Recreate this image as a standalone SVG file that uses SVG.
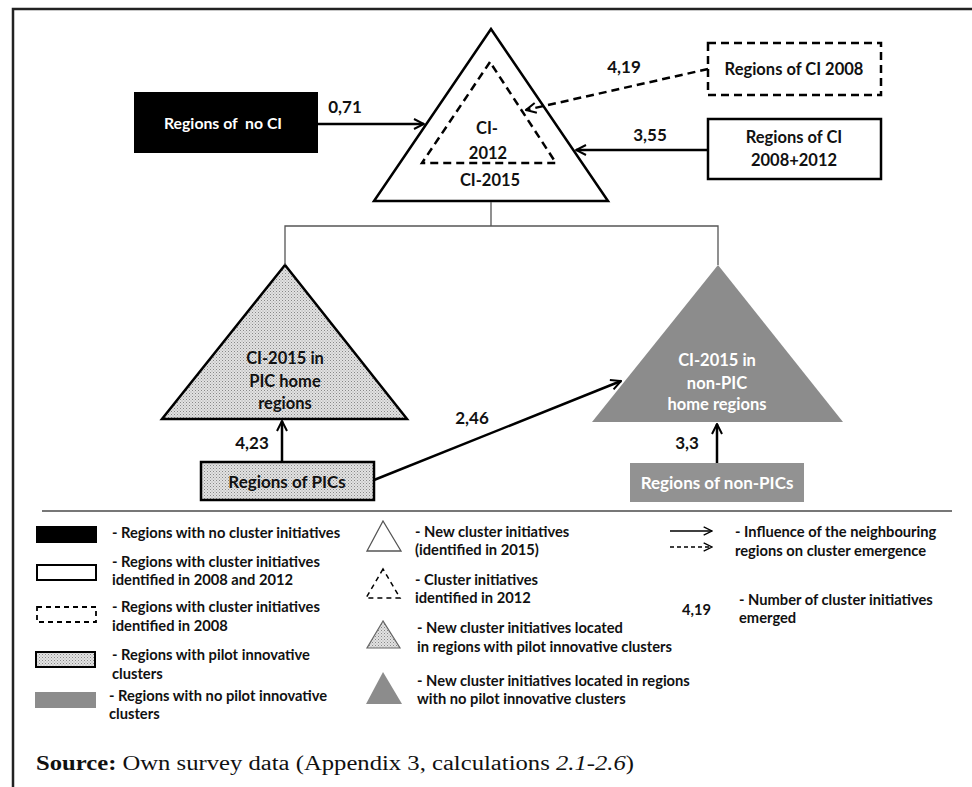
<svg xmlns="http://www.w3.org/2000/svg" width="972" height="787" viewBox="0 0 972 787">
<defs>
<pattern id="dots" width="3" height="3" patternUnits="userSpaceOnUse">
<rect width="3" height="3" fill="#e2e2e2"/>
<rect x="0" y="0" width="1" height="1" fill="#888"/>
<rect x="1.5" y="1.5" width="1" height="1" fill="#a5a5a5"/>
</pattern>
<marker id="arr" viewBox="0 0 12 12" refX="11" refY="6" markerWidth="12" markerHeight="12" markerUnits="userSpaceOnUse" orient="auto">
<path d="M1,1 L11,6 L1,11" fill="none" stroke="#000" stroke-width="2"/>
</marker>
<marker id="arrs" viewBox="0 0 12 12" refX="11" refY="6" markerWidth="10" markerHeight="10" markerUnits="userSpaceOnUse" orient="auto">
<path d="M1,1 L11,6 L1,11" fill="none" stroke="#000" stroke-width="1.6"/>
</marker>
</defs>
<style>
text{font-family:Lato,"Liberation Sans",sans-serif;font-weight:bold;fill:#111}
.n{font-size:16.5px;text-anchor:middle}
.b{font-size:17px;text-anchor:middle}
.w{fill:#fff}
.lab{font-size:17px;text-anchor:middle}
.lg{font-size:14.7px}
.box{stroke:#000;stroke-width:2.5}
.dash{stroke-dasharray:8 5}
.thin{stroke:#555;stroke-width:1.3;fill:none}
.con{stroke:#000;stroke-width:2.5;fill:none}
.src{font-family:"Liberation Serif",serif;font-weight:normal;font-size:20px;fill:#111}
</style>

<g id="frame">
<path d="M13,787 V9 H972" fill="none" stroke="#222" stroke-width="2.5"/>
</g>

<g id="ci2015">
<polygon points="491,29 374,201 608,201" fill="#fff" class="box"/>
<polygon points="490,62 422,163 556,163" fill="none" class="box dash"/>
<text class="n" x="487" y="134">CI-</text>
<text class="n" x="488" y="159">2012</text>
<text class="n" x="490" y="186">CI-2015</text>
</g>

<g id="noci">
<rect x="134" y="92" width="184" height="61" fill="#000"/>
<text class="n w" x="223" y="129" xml:space="preserve" style="font-size:15.8px">Regions of  no CI</text>
</g>

<g id="ci2008">
<rect x="708" y="43" width="173" height="52" fill="#fff" class="box dash"/>
<text class="n" x="794" y="75">Regions of CI 2008</text>
</g>

<g id="ci20082012">
<rect x="708" y="119" width="173" height="60" fill="#fff" class="box"/>
<text class="n" x="794" y="143">Regions of CI</text>
<text class="n" x="794" y="166">2008+2012</text>
</g>

<g id="pic-tri">
<polygon points="285,265 162,419 407,419" fill="url(#dots)" class="box"/>
<text class="n" x="285" y="364">CI-2015 in</text>
<text class="n" x="285" y="387">PIC home</text>
<text class="n" x="285" y="409">regions</text>
</g>

<g id="nonpic-tri">
<polygon points="718,265 592,422 843,422" fill="#8c8c8c"/>
<text class="n w" x="717" y="366">CI-2015 in</text>
<text class="n w" x="717" y="389">non-PIC</text>
<text class="n w" x="717" y="410">home regions</text>
</g>

<g id="pics">
<rect x="201" y="462" width="173" height="38" fill="url(#dots)" class="box"/>
<text class="b" x="287" y="488">Regions of PICs</text>
</g>

<g id="nonpics">
<rect x="630" y="463" width="174" height="39" fill="#929292"/>
<text class="b w" x="717" y="489">Regions of non-PICs</text>
</g>

<g id="connectors">
<path class="thin" d="M491,202 V226 M285,265 V226 H718 V265"/>
<line class="con" x1="318" y1="124" x2="424" y2="124" marker-end="url(#arr)"/>
<line class="con dash" x1="708" y1="69" x2="526" y2="110" marker-end="url(#arr)"/>
<line class="con" x1="708" y1="150" x2="576" y2="150" marker-end="url(#arr)"/>
<line class="con" x1="282" y1="461" x2="282" y2="421" marker-end="url(#arr)"/>
<line class="con" x1="374" y1="480" x2="621" y2="381" marker-end="url(#arr)"/>
<line class="con" x1="717" y1="463" x2="717" y2="424" marker-end="url(#arr)"/>
<text class="lab" x="345" y="113">0,71</text>
<text class="lab" x="624" y="73">4,19</text>
<text class="lab" x="650" y="141">3,55</text>
<text class="lab" x="252" y="449">4,23</text>
<text class="lab" x="472" y="424">2,46</text>
<text class="lab" x="687" y="449">3,3</text>
</g>

<g id="legend">
<line x1="42" y1="511" x2="952" y2="511" stroke="#777" stroke-width="2"/>
<rect x="36" y="526" width="61" height="17" fill="#000"/>
<text class="lg" x="112" y="538">- Regions with no cluster initiatives</text>
<rect x="37" y="565" width="59" height="15" fill="#fff" stroke="#000" stroke-width="2"/>
<text class="lg" x="112" y="567">- Regions with cluster initiatives</text>
<text class="lg" x="112" y="585">identified in 2008 and 2012</text>
<rect x="37" y="607" width="59" height="15" fill="none" stroke="#000" stroke-width="1.8" stroke-dasharray="5 4"/>
<text class="lg" x="112" y="612">- Regions with cluster initiatives</text>
<text class="lg" x="112" y="631">identified in 2008</text>
<rect x="36" y="652" width="59" height="15" fill="url(#dots)" stroke="#000" stroke-width="2"/>
<text class="lg" x="112" y="660">- Regions with pilot innovative</text>
<text class="lg" x="112" y="679">clusters</text>
<rect x="35" y="692" width="61" height="16" fill="#8c8c8c"/>
<text class="lg" x="109" y="701">- Regions with no pilot innovative</text>
<text class="lg" x="109" y="719">clusters</text>

<polygon points="383,521 367,551 401,551" fill="#fff" stroke="#555" stroke-width="1.3"/>
<text class="lg" x="415" y="537">- New cluster initiatives</text>
<text class="lg" x="415" y="555">(identified in 2015)</text>
<polygon points="383,569 366,598 400,598" fill="none" stroke="#000" stroke-width="1.5" stroke-dasharray="5 4"/>
<text class="lg" x="415" y="585">- Cluster initiatives</text>
<text class="lg" x="415" y="603">identified in 2012</text>
<polygon points="383,621 367,648 400,648" fill="url(#dots)" stroke="#666" stroke-width="1.2"/>
<text class="lg" x="417" y="633">- New cluster initiatives located</text>
<text class="lg" x="417" y="652">in regions with pilot innovative clusters</text>
<polygon points="383,672 366,704 402,704" fill="#8c8c8c"/>
<text class="lg" x="417" y="686">- New cluster initiatives located in regions</text>
<text class="lg" x="417" y="704">with no pilot innovative clusters</text>

<line x1="670" y1="531" x2="712" y2="531" stroke="#000" stroke-width="1.6" marker-end="url(#arrs)"/>
<line x1="670" y1="547" x2="712" y2="547" stroke="#000" stroke-width="1.6" stroke-dasharray="4 3" marker-end="url(#arrs)"/>
<text class="lg" x="735" y="537">- Influence of the neighbouring</text>
<text class="lg" x="735" y="556">regions on cluster emergence</text>
<text class="lg" x="711" y="615" text-anchor="end">4,19</text>
<text class="lg" x="739" y="605">- Number of cluster initiatives</text>
<text class="lg" x="739" y="623">emerged</text>
</g>

<g id="source">
<text class="src" x="36" y="770" textLength="598" lengthAdjust="spacingAndGlyphs"><tspan font-weight="bold">Source:</tspan> Own survey data (Appendix 3, calculations <tspan font-style="italic">2.1-2.6</tspan>)</text>
</g>
</svg>
